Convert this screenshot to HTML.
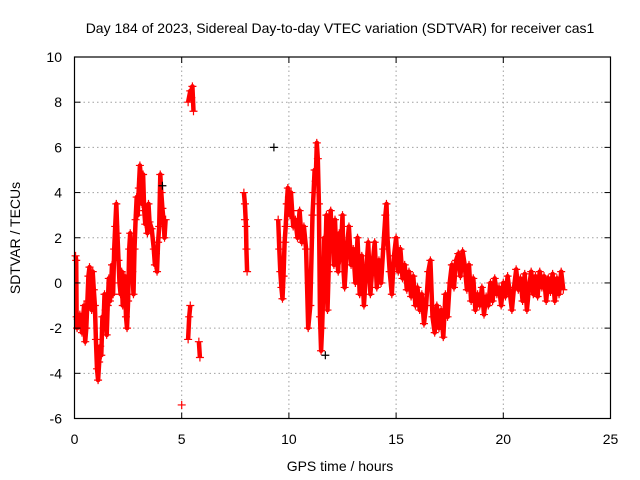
<!DOCTYPE html>
<html><head><meta charset="utf-8"><style>
body{margin:0;background:#fff;}
svg{display:block;font-family:"Liberation Sans",sans-serif;}
</style></head><body>
<svg id="chart" width="640" height="480" viewBox="0 0 640 480">
<rect width="640" height="480" fill="#fff"/>
<g id="grid"></g>
<g id="marks"></g>
<g id="axes"></g>
<text x="340" y="33" text-anchor="middle" font-size="14">Day 184 of 2023, Sidereal Day-to-day VTEC variation (SDTVAR) for receiver cas1</text>
<text x="340" y="471" text-anchor="middle" font-size="14">GPS time / hours</text>
<text transform="translate(20,238) rotate(-90)" text-anchor="middle" font-size="14">SDTVAR / TECUs</text>
</svg>
<script>
const xTicks=[0,5,10,15,20,25];
const yTicks=[-6,-4,-2,0,2,4,6,8,10];
const times=[0.05,0.08,0.1,0.12,0.15,0.2,0.25,0.3,0.35,0.4,0.45,0.5,0.55,0.6,0.65,0.7,0.75,0.8,0.85,0.9,0.95,1.0,1.05,1.1,1.15,1.2,1.25,1.3,1.35,1.4,1.45,1.5,1.55,1.6,1.65,1.7,1.75,1.8,1.85,1.9,1.95,2.0,2.05,2.1,2.15,2.2,2.25,2.3,2.35,2.4,2.45,2.5,2.55,2.6,2.65,2.7,2.75,2.8,2.85,2.9,2.95,3.0,3.05,3.1,3.15,3.2,3.25,3.3,3.35,3.4,3.45,3.5,3.6,3.7,3.75,3.8,3.85,3.9,3.95,4.0,4.05,4.1,4.15,4.2,4.25,
5.0,5.3,5.35,5.4,5.3,5.4,5.45,5.5,5.55,5.8,5.85,
7.9,7.95,8.0,8.02,8.05,7.95,
9.5,9.55,9.6,9.65,9.7,9.75,9.8,9.85,9.9,9.95,10.0,10.05,10.1,10.15,10.2,10.3,10.4,10.5,10.6,10.7,10.8,10.9,11.0,11.1,11.15,11.2,11.25,11.3,11.35,11.4,11.45,11.5,11.55,11.6,11.65,11.7,11.75,11.8,11.85,11.9,11.95,12.0,12.05,12.1,12.15,12.2,12.3,12.35,12.4,12.5,12.55,12.6,12.7,12.8,12.9,13.0,13.1,13.2,13.3,13.4,13.5,13.6,13.7,13.8,13.9,14.0,14.1,14.2,14.3,14.4,14.5,14.55,14.6,14.7,14.8,14.9,15.0,15.1,15.2,15.3,15.4,15.5,15.6,15.7,15.8,15.9,16.0,16.1,16.2,16.3,16.4,16.5,16.6,16.7,16.8,16.9,17.0,17.1,17.2,17.3,17.4,17.5,17.6,17.7,17.8,17.9,18.0,18.1,18.2,18.3,18.4,18.5,18.6,18.7,18.8,18.9,19.0,19.1,19.2,19.3,19.4,19.5,19.6,19.7,19.8,19.9,20.0,20.1,20.2,20.3,20.4,20.5,20.6,20.7,20.8,20.9,21.0,21.1,21.2,21.3,21.4,21.5,21.6,21.7,21.8,21.9,22.0,22.1,22.2,22.3,22.4,22.5,22.6,22.7,22.8];
const values=[1.2,1.0,-1.5,-2,-1.6,-1.8,-1.4,-1.7,-2.2,-1.5,-1.0,-2.6,-2.0,-0.8,0.3,0.7,-0.5,-1.2,0.5,-0.3,-1.0,-2.5,-3.8,-4.3,-3.5,-2.8,-3.2,-1.5,-2.0,-0.5,-1.2,-2.3,-1.0,0.2,-0.8,-0.3,0.8,-0.5,1.5,2.5,3.5,2.2,1.0,0.0,-0.5,0.5,-1.0,-0.3,0.3,-1.5,-2.0,-0.8,1.5,2.2,1.2,0.5,-0.5,1.5,2.8,3.8,3.0,4.2,5.2,4.6,3.5,4.8,3.2,2.6,3.0,2.2,3.5,2.7,2.4,1.5,0.8,1.3,0.5,1.8,2.5,4.8,4.0,3.3,2.8,2.0,2.8,
-5.4,-2.5,-1.5,-1.0,8.0,8.5,8.2,8.7,7.6,-2.6,-3.3,
4.0,3.5,2.5,1.5,0.5,2.8,
2.8,1.5,0.5,-0.2,-0.7,0.3,1.8,2.5,3.5,4.2,3.8,3.0,4.0,3.2,2.5,2.8,2.0,3.2,1.8,2.5,1.5,-2.0,-1.0,3.0,4.0,5.0,4.5,6.2,5.5,3.5,-1.5,-3.0,-2.0,-0.5,2.0,1.0,3.0,-1.2,0.5,2.5,3.2,1.5,2.2,0.8,2.8,1.5,0.5,2.2,1.0,3.0,0.5,-0.2,1.5,2.5,0.8,1.5,0.0,2.0,-0.5,1.2,-1.0,0.5,1.8,-0.5,0.8,1.8,-0.2,1.0,0.0,1.5,3.0,3.5,2.0,0.5,-0.5,1.2,2.0,0.5,1.5,0.2,0.8,-0.3,0.5,-0.6,0.3,-1.0,-0.2,-1.2,-0.5,-1.8,-1.0,0.5,1.0,-1.5,-2.2,-1.0,-2.0,-1.2,-2.4,-0.5,-1.5,0.0,0.8,-0.2,1.0,1.3,0.3,1.4,0.8,-0.3,0.8,-0.8,0.2,-1.2,-0.5,-1.0,-0.2,-1.4,-0.6,-1.0,0.0,-0.8,0.2,-0.5,-0.2,-1.0,0.0,-0.6,0.3,-0.4,-1.2,-0.2,0.6,-0.3,0.2,-0.8,0.4,-1.2,-0.2,0.5,-0.5,0.3,-0.6,0.5,-0.2,0.3,-0.8,0.2,-0.4,0.4,-0.8,0.2,-0.5,0.5,-0.3];
const blackTimes=[9.3,11.7,4.1];
const blackValues=[6.0,-3.2,4.3];

const L=74.5,R=610.5,T=57,B=418.5;
const xs=v=>L+(v-0)/25*(R-L);
const ys=v=>B-(v+6)/16*(B-T);
const NS="http://www.w3.org/2000/svg";
function mk(tag,attrs,parent){const e=document.createElementNS(NS,tag);for(const k in attrs)e.setAttribute(k,attrs[k]);parent.appendChild(e);return e;}
const grid=document.getElementById('grid'),axes=document.getElementById('axes'),marks=document.getElementById('marks');
xTicks.forEach(t=>{
 const x=xs(t);
 if(t>0&&t<25){const g=mk('line',{x1:x,x2:x,y1:T,y2:B,stroke:'#a0a0a0','stroke-dasharray':'1.5,3'},grid);
 
 }
 mk('line',{x1:x,x2:x,y1:B,y2:B-6,stroke:'#000'},axes);
 mk('line',{x1:x,x2:x,y1:T,y2:T+6,stroke:'#000'},axes);
 const l=mk('text',{x:x,y:444,'text-anchor':'middle','font-size':'14'},axes);l.textContent=t;
 
 
});
yTicks.forEach(t=>{
 const y=ys(t);
 if(t>-6&&t<10){const g=mk('line',{x1:L,x2:R,y1:y,y2:y,stroke:'#a0a0a0','stroke-dasharray':'1.5,3'},grid);
 
 }
 mk('line',{x1:L,x2:L+6,y1:y,y2:y,stroke:'#000'},axes);
 mk('line',{x1:R,x2:R-6,y1:y,y2:y,stroke:'#000'},axes);
 const l=mk('text',{x:62,y:y+5,'text-anchor':'end','font-size':'14'},axes);l.textContent=t;
 
 
});
const fr=mk('rect',{x:L,y:T,width:R-L,height:B-T,fill:'none',stroke:'#000','stroke-width':'1.2'},axes);


let d='';
for(let i=0;i<times.length;i++){
 const c=(i>0&&times[i]-times[i-1]>0&&times[i]-times[i-1]<0.16)?'L':'M';
 d+=c+xs(times[i]).toFixed(1)+','+ys(values[i]).toFixed(1);
}
const band=mk('path',{d:d,fill:'none',stroke:'#ff0000','stroke-width':'4.5','stroke-linejoin':'round'},marks);


function plus(x,y,col,name){
 const p=mk('path',{d:`M${x-4},${y}h8M${x},${y-4}v8`,stroke:col,'stroke-width':'1.2'},marks);
 
 
}
for(let i=0;i<times.length;i++)plus(xs(times[i]),ys(values[i]),'#ff0000','sdtvar-point');
for(let i=0;i<blackTimes.length;i++)plus(xs(blackTimes[i]),ys(blackValues[i]),'#000','outlier-point');
</script>
</body></html>
